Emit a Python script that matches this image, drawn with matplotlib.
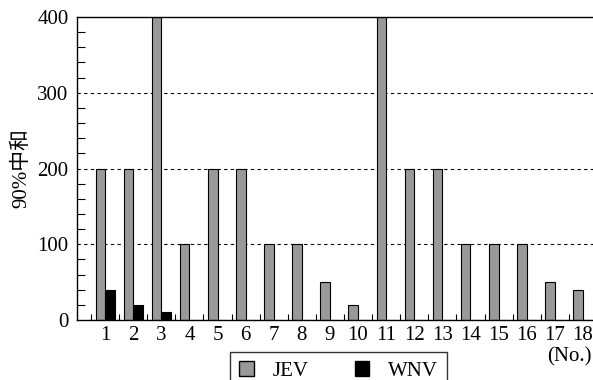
import matplotlib.pyplot as plt
from matplotlib.patches import Patch
from matplotlib.ticker import MultipleLocator

plt.rcParams['font.family'] = ['Liberation Serif', 'Noto Sans CJK JP']

# Data
samples = list(range(1, 19))
jev = [200, 200, 400, 100, 200, 200, 100, 100, 50, 20, 400, 200, 200, 100, 100, 100, 50, 40]
wnv = [40, 20, 10, 0, 0, 0, 0, 0, 0, 0, 0, 0, 0, 0, 0, 0, 0, 0]

fs = 15

fig = plt.figure(figsize=(5.93, 3.8), dpi=100)
ax = fig.add_axes([77/593, 60/380, 516/593, 303/380])

w = 0.34
ax.bar([s - w/2 for s in samples], jev, width=w, color='#999999', edgecolor='black', linewidth=0.8)
ax.bar([s + w/2 for s in samples], wnv, width=w, color='black', edgecolor='black', linewidth=0.8)

ax.set_xlim(0, 18.36)
ax.set_ylim(0, 400)
ax.set_xticks(samples)
ax.set_xticklabels([str(s) for s in samples], fontsize=fs)
ax.set_xticks([s + 0.5 for s in range(0, 18)], minor=True)
ax.set_yticks([0, 100, 200, 300, 400])
ax.set_yticklabels(['0', '100', '200', '300', '400'], fontsize=fs)
ax.yaxis.set_minor_locator(MultipleLocator(20))
ax.tick_params(axis='x', which='major', length=0, pad=4)
ax.tick_params(axis='x', which='minor', direction='in', length=4, width=0.8)
ax.tick_params(axis='y', which='major', direction='in', length=0, pad=6)
ax.tick_params(axis='y', which='minor', direction='in', length=6, width=0.8)

for v in [100, 200, 300]:
    ax.axhline(v, color='black', linestyle=(0, (3, 3)), linewidth=0.8, zorder=0)

ax.spines['right'].set_visible(False)
for s in ['left', 'bottom', 'top']:
    ax.spines[s].set_linewidth(1.0)

ax.set_ylabel('90%中和', fontsize=fs, labelpad=4)

fig.text(592/593, 1 - 357/380, '(No.)', fontsize=fs, ha='right', va='center')

handles = [Patch(facecolor='#999999', edgecolor='black', label='JEV'),
           Patch(facecolor='black', edgecolor='black', label='WNV')]
leg = fig.legend(handles=handles, ncol=2, loc='upper left',
                 bbox_to_anchor=(230/593, 1 - 352/380), fontsize=fs,
                 frameon=True, fancybox=False, edgecolor='black',
                 handlelength=0.7, handleheight=0.7, columnspacing=2.2,
                 borderpad=0.45, handletextpad=0.9, borderaxespad=0)
leg.get_frame().set_linewidth(1.0)

fig.savefig('out.png', dpi=100)
